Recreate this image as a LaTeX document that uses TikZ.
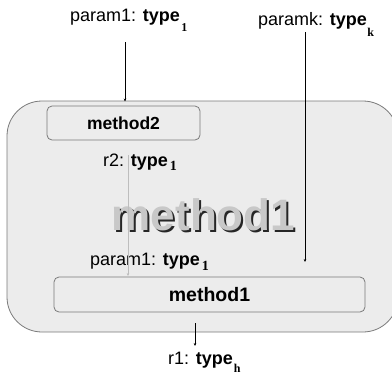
\documentclass[tikz,border=0pt]{standalone}
\usepackage{fontspec}
\setmainfont{Liberation Sans}
\newfontfamily\subfont{Liberation Serif}
\usetikzlibrary{arrows.meta}
\definecolor{boxbg}{HTML}{ECECEC}
\definecolor{boxline}{HTML}{7A7A7A}
\definecolor{bigfill}{HTML}{C8C8C8}
\definecolor{faint}{HTML}{BDBDBD}
\tikzset{
  lbl/.style={inner sep=0pt, anchor=base west, font=\fontsize{18}{20}\selectfont},
  methodbox/.style={draw=boxline, fill=boxbg, rounded corners=5pt, line width=0.8pt, inner sep=0pt},
  conn/.style={line width=0.6pt, -{Stealth[length=3pt,width=2.6pt]}},
}
\newcommand{\subx}[4]{\hspace{#3pt}\raisebox{-#1pt}{\subfont\bfseries\fontsize{#2}{#2}\selectfont #4}}
\begin{document}
\begin{tikzpicture}[x=1pt,y=-1pt]
\useasboundingbox (0,0) rectangle (392,384);
\begin{scope}
\clip (0,0) rectangle (392,384);
\node[draw=boxline, fill=boxbg, rounded corners=35pt, line width=0.8pt, minimum width=391pt, minimum height=231pt, inner sep=0pt] (outer) at (202.5,216.5) {};
\end{scope}
% big title with shadow
\node[font=\bfseries\fontsize{44}{48}\selectfont, text=black!85, anchor=base, inner sep=0pt] (bigshadow) at (205.5,232) {method1};
\node[font=\bfseries\fontsize{44}{48}\selectfont, text=bigfill, anchor=base, inner sep=0pt] (big) at (203.5,230) {method1};
% inner boxes
\node[methodbox, minimum width=153pt, minimum height=34pt, font=\bfseries\fontsize{17.5}{19}\selectfont] (m2) at (123.5,123) {method2};
\node[methodbox, minimum width=311pt, minimum height=35pt, font=\bfseries\fontsize{19.5}{21}\selectfont] (m1) at (209.5,294.5) {method1};
% labels
\node[lbl] (p1) at (70,21) {param1: \textbf{type}\subx{10}{12}{1.5}{1}};
\node[lbl] (pk) at (258,25) {paramk: \textbf{type}\subx{11}{12}{0.5}{k}};
\node[lbl] (r2) at (103,166) {r2: \textbf{type}\subx{4}{14}{2}{1}};
\node[lbl] (p1in) at (90,265) {param1: \textbf{type}\subx{5}{14}{2}{1}};
\node[lbl] (r1) at (168,364) {r1: \textbf{type}\subx{8}{12}{1}{h}};
% connector endpoints
\coordinate (p1s) at (125,42);
\coordinate (p1e) at (125,101.5);
\coordinate (pks) at (305,32);
\coordinate (pke) at (305,262);
\coordinate (r2s) at (128,155);
\coordinate (r2e) at (128,276);
\coordinate (r1s) at (195,323);
\coordinate (r1e) at (195,346);
\draw[conn] (p1s) -- (p1e);
\draw[conn] (pks) -- (pke);
\draw[conn, draw=faint] (r2s) -- (r2e);
\draw[conn] (r1s) -- (r1e);
\end{tikzpicture}
\end{document}
